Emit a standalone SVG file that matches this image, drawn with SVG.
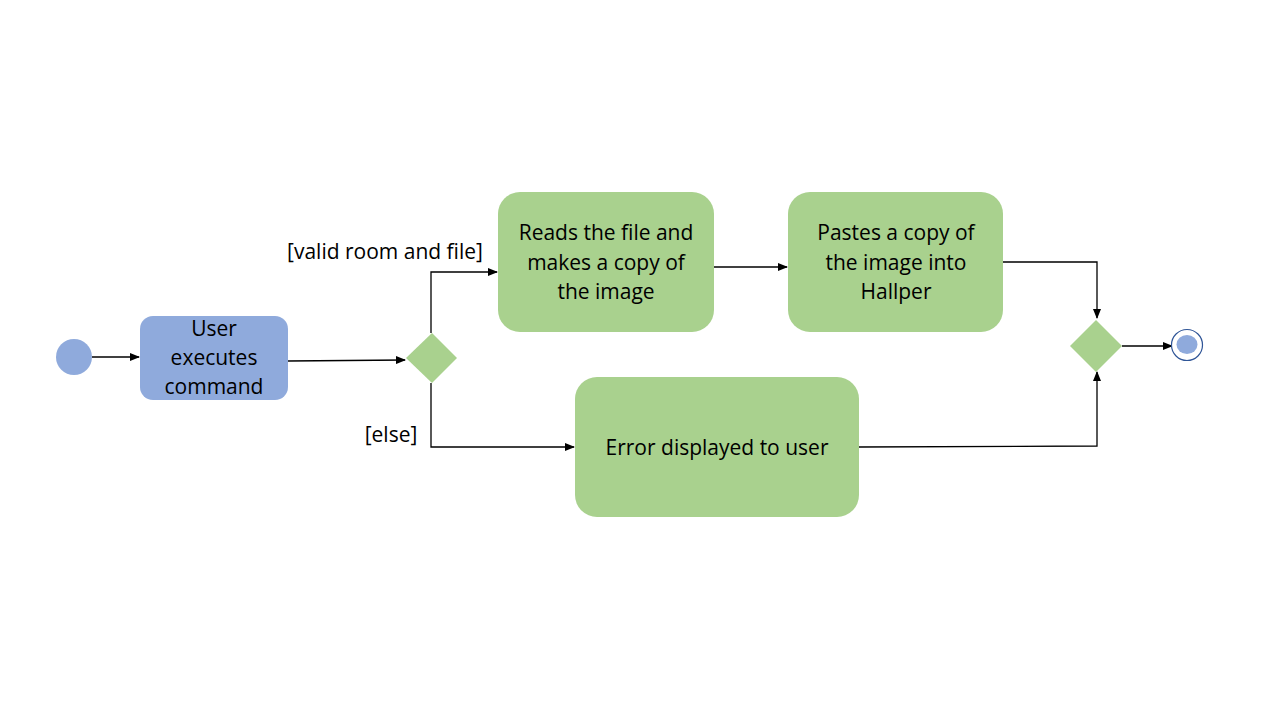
<svg xmlns="http://www.w3.org/2000/svg" width="1280" height="720" viewBox="0 0 1280 720">
<style>
.t{font-family:"Open Sans","Liberation Sans",sans-serif;font-size:21px;fill:#000;text-anchor:middle;dominant-baseline:central}
.g{fill:#A9D18E}
.b{fill:#8FAADC}
.c{fill:none;stroke:#000;stroke-width:1.3}
</style>
<defs>
<marker id="a" markerWidth="10" markerHeight="8" refX="9" refY="4" orient="auto" markerUnits="userSpaceOnUse">
<path d="M0,0 L10,4 L0,8 z" fill="#000"/>
</marker>
</defs>
<rect width="1280" height="720" fill="#fff"/>
<g id="connectors">
<line class="c" x1="92" y1="357" x2="139" y2="357" marker-end="url(#a)"/>
<polyline class="c" points="288,361 405,360" marker-end="url(#a)"/>
<polyline class="c" points="431,333 431,272 497,272" marker-end="url(#a)"/>
<polyline class="c" points="431,383 431,447 574,447" marker-end="url(#a)"/>
<line class="c" x1="714" y1="267" x2="787" y2="267" marker-end="url(#a)"/>
<polyline class="c" points="1003,262 1097,262 1097,318" marker-end="url(#a)"/>
<polyline class="c" points="859,447 1097,446 1097,372" marker-end="url(#a)"/>
<line class="c" x1="1122" y1="346" x2="1172" y2="346" marker-end="url(#a)"/>
</g>
<g id="start"><circle class="b" cx="74" cy="357" r="18"/></g>
<g id="user">
<rect class="b" x="140" y="316" width="148" height="84" rx="13"/>
<text class="t" x="214" y="328">User</text>
<text class="t" x="214" y="357">executes</text>
<text class="t" x="214" y="386">command</text>
</g>
<g id="decision"><polygon class="g" points="432,333 457,358 432,383 406,358"/></g>
<g id="label-valid"><text class="t" x="385" y="251">[valid room and file]</text></g>
<g id="label-else"><text class="t" x="391" y="434">[else]</text></g>
<g id="reads">
<rect class="g" x="498" y="192" width="216" height="140" rx="22"/>
<text class="t" x="606" y="232">Reads the file and</text>
<text class="t" x="606" y="262">makes a copy of</text>
<text class="t" x="606" y="291">the image</text>
</g>
<g id="pastes">
<rect class="g" x="788" y="192" width="215" height="140" rx="22"/>
<text class="t" x="896" y="232">Pastes a copy of</text>
<text class="t" x="896" y="262">the image into</text>
<text class="t" x="896" y="291">Hallper</text>
</g>
<g id="error">
<rect class="g" x="575" y="377" width="284" height="140" rx="22"/>
<text class="t" x="717" y="447">Error displayed to user</text>
</g>
<g id="merge"><polygon class="g" points="1096,320 1122,346 1096,372 1070,346"/></g>
<g id="end">
<circle cx="1187" cy="345" r="15.5" fill="#fff" stroke="#2F5597" stroke-width="1.2"/>
<ellipse class="b" cx="1187" cy="344.5" rx="10.5" ry="9.5"/>
</g>
</svg>
